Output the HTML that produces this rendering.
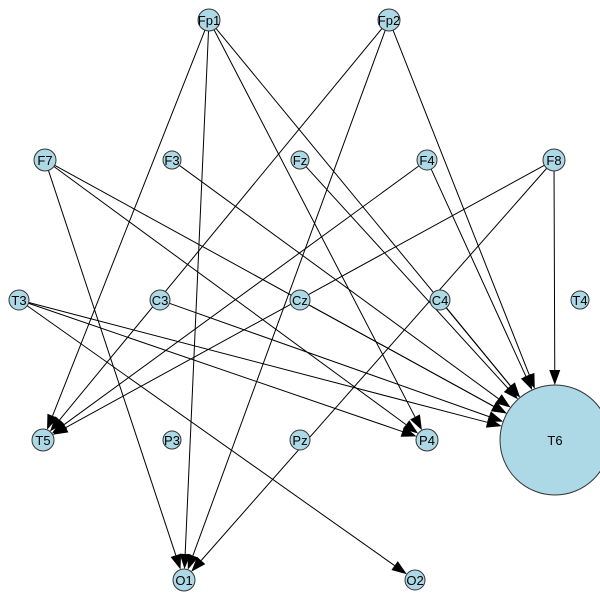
<!DOCTYPE html>
<html><head><style>body{margin:0;background:#fff}svg{display:block}</style></head>
<body>
<svg id="s" width="600" height="600" xmlns="http://www.w3.org/2000/svg" font-family="Liberation Sans, Arial, sans-serif" font-size="13">
<g id="e"></g><g id="n"></g>
</svg>
<script>
var N={Fp1:[209,20,11],Fp2:[389,20,11],F7:[45,160,11],F3:[172,160,9],Fz:[300,160,9],F4:[427,160,10],F8:[554,160,11],
T3:[19,300,10],C3:[160,300,10],Cz:[300,300,10],C4:[440,300,10],T4:[580,300,9],
T5:[43,440,11],P3:[172,440,9],Pz:[300,440,10],P4:[427,440,11],T6:[555,440,55],O1:[184,580,11],O2:[415,580,10]};
var E=[["Fp1","T5"],["Fp1","O1"],["Fp1","P4"],["Fp1","T6"],["Fp2","T5"],["Fp2","O1"],["Fp2","T6"],
["F7","O1"],["F7","T6"],["F7","P4"],["F3","T6"],["Fz","T6"],["F4","T5"],["F4","T6"],["F8","T5"],["F8","O1"],["F8","T6"],
["T3","T6"],["T3","P4"],["T3","O2"],["C3","T6"],["Cz","T6"],["C4","T6"]];
var ns="http://www.w3.org/2000/svg",ge=document.getElementById("e"),gn=document.getElementById("n");
function el(t,a,p){var x=document.createElementNS(ns,t);for(var k in a)x.setAttribute(k,a[k]);p.appendChild(x);return x;}
E.forEach(function(d){var a=N[d[0]],b=N[d[1]];var dx=b[0]-a[0],dy=b[1]-a[1],L=Math.hypot(dx,dy),ux=dx/L,uy=dy/L;
var x1=a[0]+ux*a[2],y1=a[1]+uy*a[2],tx=b[0]-ux*b[2],ty=b[1]-uy*b[2],bx=tx-ux*15,by=ty-uy*15;
el("line",{x1:x1,y1:y1,x2:bx,y2:by,stroke:"#000","stroke-width":1},ge);
el("polygon",{points:tx+","+ty+" "+(bx-uy*5.5)+","+(by+ux*5.5)+" "+(bx+uy*5.5)+","+(by-ux*5.5),fill:"#000"},ge);});
for(var k in N){var c=N[k];el("circle",{cx:c[0],cy:c[1],r:c[2],fill:"#add8e6",stroke:"#333","stroke-width":1},gn);
var t=el("text",{x:c[0],y:c[1]+5,"text-anchor":"middle",fill:"#000"},gn);t.textContent=k;}
</script>
</body></html>
